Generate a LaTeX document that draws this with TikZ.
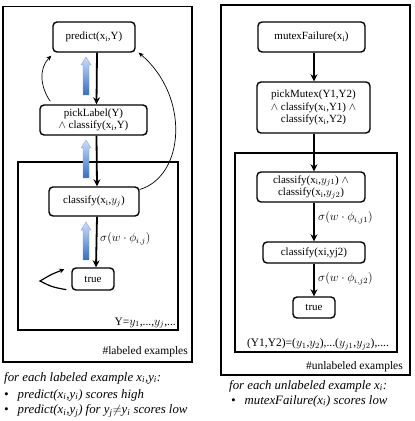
\documentclass[tikz,border=0pt]{standalone}
\usepackage{fontspec}
\setmainfont{Liberation Serif}
\usetikzlibrary{arrows.meta}
\usetikzlibrary{positioning}

\definecolor{liftlight}{RGB}{205,222,248}
\definecolor{liftdark}{RGB}{52,110,196}

\tikzset{
  box/.style={draw,line width=1.4pt,rounded corners=4pt,align=center,inner sep=0pt,font=\fontsize{11}{12.5}\selectfont},
  flow/.style={line width=1.8pt,-{Stealth[length=7pt,width=7pt]}},
  back/.style={line width=0.7pt,-{Stealth[length=5pt,width=4.5pt]}},
  plate/.style={line width=1.4pt},
  tag/.style={font=\fontsize{11.5}{12}\selectfont,inner sep=0pt},
  note/.style={font=\fontsize{12.8}{14}\selectfont\itshape,inner sep=0pt,anchor=west},
}
\newcommand{\liftarrow}[3]{%
  \shade[top color=liftlight,bottom color=liftdark,draw=liftdark!70,line width=0.3pt]
    (#1-3,#2) -- (#1-3,#3-8) -- (#1-5,#3-8) -- (#1,#3) -- (#1+5,#3-8) -- (#1+3,#3-8) -- (#1+3,#2) -- cycle;}

\begin{document}
\begin{tikzpicture}[x=1pt,y=1pt]
\useasboundingbox (0,0) rectangle (415,421);

% labeled side
\draw[plate] (3,59) rectangle (192,414.5);
\draw[plate] (18,91) rectangle (178,259);
\node[box,minimum width=82pt,minimum height=30pt] (predict) at (94,384) {predict(x\textsubscript{i},Y)};
\node[box,minimum width=107pt,minimum height=30pt] (pick) at (93.5,301) {pickLabel(Y)\\$\wedge$ classify(x\textsubscript{i},Y)};
\node[box,minimum width=90pt,minimum height=29pt] (cls) at (94,219.5) {classify(x\textsubscript{i},$y_j$)};
\node[box,minimum width=42pt,minimum height=22pt] (tru) at (93,142) {true};

\draw[flow] ([xshift=3pt]predict.south) -- ([xshift=3pt]pick.north);
\draw[flow] ([xshift=3pt]pick.south) -- ([xshift=3pt]cls.north);
\draw[flow] ([xshift=3pt]cls.south) -- ([xshift=3pt]tru.north);
\liftarrow{86}{326}{364}
\liftarrow{86}{243}{281}
\liftarrow{86}{161}{199}

\draw[back] ([shift={(11,3)}]pick.north west) to[out=125,in=225] ([shift={(-1,-3)}]predict.south west);
\draw[back] ([yshift=12pt]cls.east) .. controls (185,245) and (190,325) .. ([xshift=3pt]predict.south east);
\draw[line width=1.2pt,-{Stealth[length=5pt,width=5pt]}] ([shift={(-5,1)}]tru.south west) .. controls (52,134) .. (40,140) .. controls (52,147) .. ([shift={(-7,-2)}]tru.north west);

\node[tag,anchor=west] (sig) at (100,182) {$\sigma(w\cdot\phi_{i,j})$};
\node[tag,anchor=east] (rangeY) at (176,98) {Y=$y_1$,...,$y_j$,...};
\node[tag,anchor=east] (plateL) at (188,69) {\#labeled examples};

\node[note] (labhead) at (4,43) {for each labeled example x\textsubscript{i},y\textsubscript{i}:};
\node[note] (labone) at (4,26) {\textbullet\hspace{9pt}predict(x\textsubscript{i},y\textsubscript{i}) scores high};
\node[note] (labtwo) at (4,10) {\textbullet\hspace{9pt}predict(x\textsubscript{i},y\textsubscript{j}) for y\textsubscript{j}$\neq$y\textsubscript{i} scores low};

% unlabeled side
\draw[plate] (221,46) rectangle (410,416);
\draw[plate] (235,69) rectangle (397,268);
\node[box,minimum width=107pt,minimum height=30pt] (mutex) at (311.5,384) {mutexFailure(x\textsubscript{i})};
\node[box,minimum width=113pt,minimum height=51pt] (pickm) at (313.5,313.5) {pickMutex(Y1,Y2)\\$\wedge$ classify(x\textsubscript{i},Y1) $\wedge$\\classify(x\textsubscript{i},Y2)};
\node[box,minimum width=108pt,minimum height=30pt] (clsa) at (311,234) {classify(x\textsubscript{i},$y_{j1}$) $\wedge$\\classify(x\textsubscript{i},$y_{j2}$)};
\node[box,minimum width=102pt,minimum height=21pt] (clsb) at (314,168.5) {classify(xi,yj2)};
\node[box,minimum width=42pt,minimum height=21pt] (trub) at (314,113.5) {true};

\draw[flow] (mutex.south -| 314,0) -- (pickm.north -| 314,0);
\draw[flow] (pickm.south -| 314,0) -- (clsa.north -| 314,0);
\draw[flow] (clsa.south -| 314,0) -- (clsb.north -| 314,0);
\draw[flow] (clsb.south -| 314,0) -- (trub.north -| 314,0);

\node[tag,anchor=west] (sigA) at (318,203) {$\sigma(w\cdot\phi_{i,j1})$};
\node[tag,anchor=west] (sigB) at (318,142) {$\sigma(w\cdot\phi_{i,j2})$};
\node[tag] (rangeM) at (318,77) {(Y1,Y2)=($y_1$,$y_2$),...($y_{j1}$,$y_{j2}$),....};
\node[tag,anchor=east] (plateU) at (403,54) {\#unlabeled examples};

\node[note] (unhead) at (229,35) {for each unlabeled example x\textsubscript{i}:};
\node[note] (unone) at (231,20) {\textbullet\hspace{9pt}mutexFailure(x\textsubscript{i}) scores low};
\end{tikzpicture}
\end{document}
